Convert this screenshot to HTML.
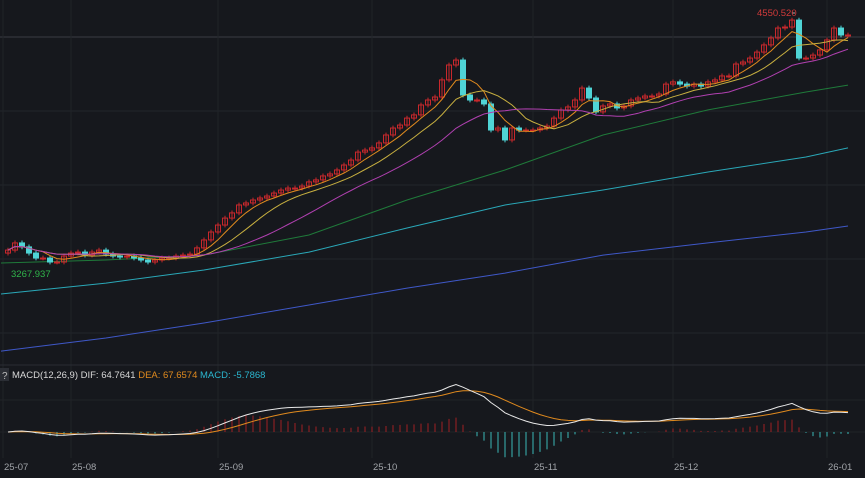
<!DOCTYPE html>
<html><head><meta charset="utf-8">
<style>
html,body{margin:0;padding:0;background:#16181d;}
body{width:865px;height:478px;overflow:hidden;font-family:"Liberation Sans",sans-serif;}
svg{display:block}
</style></head>
<body>
<svg id="chart" width="865" height="478" xmlns="http://www.w3.org/2000/svg">
  <rect x="0" y="0" width="865" height="478" fill="#16181d"/>
  <g id="grid"></g>
  <g id="malong"></g>
  <g id="candles"></g>
  <g id="mashort"></g>
  <g id="macd"></g>
  <line x1="0" y1="365" x2="865" y2="365" stroke="#2a2d34" stroke-width="1"/>
  <rect x="0" y="368" width="9" height="13" fill="#2b2e35"/>
  <text x="2" y="379" fill="#bbb" font-size="10">?</text>
  <text x="12" y="378" font-size="9.5"><tspan fill="#d8d8d8">MACD(12,26,9)  DIF: 64.7641 </tspan><tspan fill="#e08a1e"> DEA: 67.6574 </tspan><tspan fill="#2bb6cf"> MACD: -5.7868</tspan></text>
  <g id="xaxis"></g>
  <g id="labels"></g>
</svg>
<script>
const closes=[3368,3404,3384,3353,3328,3328,3308,3308,3338,3353,3358,3343,3358,3368,3348,3338,3333,3338,3328,3318,3308,3318,3328,3328,3338,3343,3348,3379,3419,3459,3494,3529,3555,3595,3605,3620,3630,3640,3655,3670,3680,3680,3690,3711,3721,3741,3751,3771,3796,3821,3861,3871,3882,3907,3947,3982,3997,4032,4048,4098,4123,4138,4224,4299,4324,4148,4123,4123,4103,3972,3982,3922,3982,3972,3972,3972,3982,3992,4032,4073,4088,4123,4183,4133,4063,4093,4103,4083,4093,4123,4133,4143,4143,4153,4203,4214,4203,4193,4203,4193,4214,4224,4244,4244,4304,4314,4334,4364,4400,4435,4485,4490,4525,4334,4334,4349,4375,4425,4485,4450,4450];
const longSampleIdx=[-1,14,28,43,57,71,85,100,114,120];
const ma60=[3303,3318,3343,3444,3620,3771,3947,4073,4163,4198];
const ma120=[3147,3202,3268,3358,3479,3595,3670,3761,3836,3882];
const ma250=[2860,2926,3001,3092,3177,3252,3343,3404,3459,3489];
const xTicks=["25-07","25-08","25-09","25-10","25-11","25-12","26-01"];
const xTickIdx=[0,9,30,52,75,95,117];
const hiLabel="4550.520", loLabel="3267.937";

const NS="http://www.w3.org/2000/svg";
function el(tag,attrs,parent){const e=document.createElementNS(NS,tag);for(const k in attrs)e.setAttribute(k,attrs[k]);parent.appendChild(e);return e;}
const x0=8,step=7;
const X=i=>x0+i*step;
const Y=p=>15+(4550.52-p)*0.1988;
const grid=document.getElementById('grid');
[37,111,185,259,333].forEach((y,i)=>{const l=el('line',{x1:0,x2:865,y1:y,y2:y,stroke:i==0?'#3a3d44':'#23262c','stroke-width':1},grid);});
[400,432].forEach(y=>{const l=el('line',{x1:0,x2:865,y1:y,y2:y,stroke:'#202328'},grid);});
xTickIdx.forEach((idx,k)=>{const x=k==0?3:X(idx);const l=el('line',{x1:x,x2:x,y1:0,y2:458,stroke:'#202328'},grid);
 const t=el('text',{x:x+1,y:470,fill:'#a0a3a8','font-size':9.5},document.getElementById('xaxis'));t.textContent=xTicks[k];});
function poly(vals,idxs,color,parent,name){const pts=vals.map((v,j)=>X(idxs?idxs[j]:j)+','+Y(v).toFixed(1)).join(' ');const p=el('polyline',{points:pts,fill:'none',stroke:color,'stroke-width':1},parent);}
const ml=document.getElementById('malong');
poly(ma60,longSampleIdx,'#1f7a3a',ml,'ma60-line');
poly(ma120,longSampleIdx,'#2aa8b8',ml,'ma120-line');
poly(ma250,longSampleIdx,'#3f58c8',ml,'ma250-line');
const cg=document.getElementById('candles');
closes.forEach((c,i)=>{const o=i==0?c-15:closes[i-1];const up=c>=o;const hi=Math.max(o,c)+12,lo=Math.min(o,c)-12;const x=X(i);
 const col=up?'#c8282c':'#4fd4d6';
 const w=el('line',{x1:x,x2:x,y1:Y(hi),y2:Y(lo),stroke:col},cg);
 const top=Y(Math.max(o,c)),h=Math.max(1,Y(Math.min(o,c))-top);
 const r=el('rect',{x:x-2.5,y:top,width:5,height:h,fill:up?'none':col,stroke:col,'stroke-width':1},cg);});
function ma(n){return closes.map((_,i)=>{const s=closes.slice(Math.max(0,i-n+1),i+1);return s.reduce((a,b)=>a+b,0)/s.length;});}
const ms=document.getElementById('mashort');
poly(ma(5),null,'#e08a1e',ms,'ma5-line');
poly(ma(10),null,'#c8b040',ms,'ma10-line');
poly(ma(20),null,'#b040b0',ms,'ma20-line');
const lg=document.getElementById('labels');
let hiI=closes.indexOf(Math.max(...closes)),loI=closes.indexOf(Math.min(...closes));
el('line',{x1:795,x2:X(hiI),y1:13,y2:13,stroke:'#aaa'},lg);
let t=el('text',{x:757,y:16,fill:'#d23a3a','font-size':9.5},lg);t.textContent=hiLabel;
el('line',{x1:50,x2:X(loI),y1:273,y2:273,stroke:'#aaa'},lg);
t=el('text',{x:11,y:277,fill:'#2fb34a','font-size':9.5},lg);t.textContent=loLabel;
function ema(arr,n){const k=2/(n+1);let out=[];arr.forEach((v,i)=>out.push(i==0?v:v*k+out[i-1]*(1-k)));return out;}
const e12=ema(closes,12),e26=ema(closes,26);
const dif=e12.map((v,i)=>v-e26[i]);const dea=ema(dif,9);
const mg=document.getElementById('macd');
const MY=v=>432-v*0.29;
dif.forEach((d,i)=>{const h=2*(d-dea[i]);const b=el('line',{x1:X(i),x2:X(i),y1:432,y2:MY(h),stroke:h>=0?'#a02024':'#3ab8b8','stroke-width':1},mg);});
let p=el('polyline',{points:dea.map((v,i)=>X(i)+','+MY(v).toFixed(1)).join(' '),fill:'none',stroke:'#e08a1e'},mg);
p=el('polyline',{points:dif.map((v,i)=>X(i)+','+MY(v).toFixed(1)).join(' '),fill:'none',stroke:'#e8e8e8'},mg);
</script>
</body></html>
